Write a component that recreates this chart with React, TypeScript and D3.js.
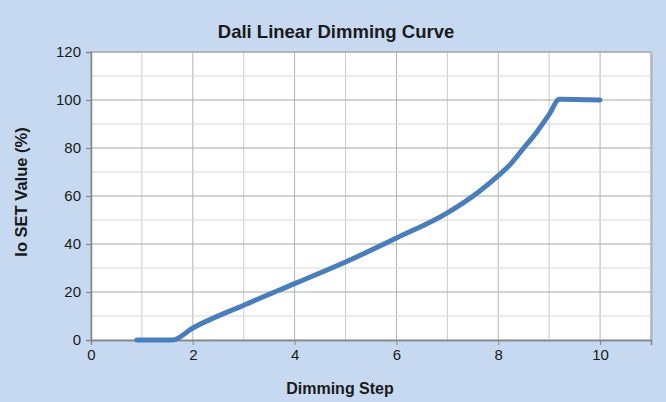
import { useEffect, useRef } from "react";
import * as d3 from "d3";

const WIDTH = 666;
const HEIGHT = 402;
const MARGINS = { LEFT: 91, RIGHT: 15, TOP: 52, BOTTOM: 62 };

const steps = [0.9, 1.6, 2, 3, 4, 5, 6, 7, 7.6, 8, 8.25, 8.5, 8.75, 9, 9.2, 10];
const ioSet = [0, 0, 5, 14.5, 23.5, 32.5, 42.5, 53, 61.5, 68.5, 73.5, 80, 86.5, 94, 100.3, 100];
const xTicks = [0, 2, 4, 6, 8, 10];
const yTicks = [0, 20, 40, 60, 80, 100, 120];

const FONT = "'Liberation Sans', Arial, sans-serif";

const App = () => {
  const svgRef = useRef<SVGSVGElement | null>(null);

  useEffect(() => {
    const svg = d3.select(svgRef.current);
    svg.selectAll("*").remove();

    const innerW = WIDTH - MARGINS.LEFT - MARGINS.RIGHT;
    const innerH = HEIGHT - MARGINS.TOP - MARGINS.BOTTOM;

    svg.append("rect").attr("width", WIDTH).attr("height", HEIGHT).attr("fill", "#c6d9f0");

    const xScale = d3.scaleLinear().domain([0, 11]).range([0, innerW]);
    const yScale = d3.scaleLinear().domain([0, 120]).range([innerH, 0]);

    const g = svg.append("g").attr("transform", `translate(${MARGINS.LEFT}, ${MARGINS.TOP})`);

    // soft shadow on the right / bottom of the plot area
    g.append("rect")
      .attr("x", 2)
      .attr("y", 2)
      .attr("width", innerW)
      .attr("height", innerH)
      .attr("fill", "#b3c6dd");

    g.append("rect").attr("width", innerW).attr("height", innerH).attr("fill", "#ffffff");

    // gridlines
    g.selectAll(".vgrid")
      .data(d3.range(1, 12))
      .join("line")
      .attr("x1", (d) => xScale(d))
      .attr("x2", (d) => xScale(d))
      .attr("y1", 0)
      .attr("y2", innerH)
      .attr("stroke", (d) => (d % 2 === 0 ? "#b4b4b4" : "#cccccc"))
      .attr("stroke-width", 1);

    g.selectAll(".hgrid")
      .data(d3.range(10, 130, 10))
      .join("line")
      .attr("x1", 0)
      .attr("x2", innerW)
      .attr("y1", (d) => yScale(d))
      .attr("y2", (d) => yScale(d))
      .attr("stroke", (d) => (d % 20 === 0 ? "#a8a8a8" : "#d8d8d8"))
      .attr("stroke-width", 1);

    g.append("rect")
      .attr("width", innerW)
      .attr("height", innerH)
      .attr("fill", "none")
      .attr("stroke", "#a6a6a6");

    // axes
    const xAxis = d3.axisBottom(xScale).tickValues(xTicks).tickSize(5).tickPadding(4);
    const yAxis = d3.axisLeft(yScale).tickValues(yTicks).tickSize(5).tickPadding(5);

    const xg = g.append("g").attr("transform", `translate(0, ${innerH})`).call(xAxis as any);
    const yg = g.append("g").call(yAxis as any);

    [xg, yg].forEach((ax) => {
      ax.select(".domain").attr("stroke", "#868686").attr("stroke-width", 1.5);
      ax.selectAll(".tick line").attr("stroke", "#868686");
      ax.selectAll(".tick text")
        .attr("fill", "#1a1a1a")
        .style("font-family", FONT)
        .style("font-size", "15px");
    });

    // curve
    const pts = steps.map((s, i) => [s, ioSet[i]] as [number, number]);
    const line = d3
      .line<[number, number]>()
      .x((d) => xScale(d[0]))
      .y((d) => yScale(d[1]))
      .curve(d3.curveMonotoneX);

    g.append("path")
      .datum(pts)
      .attr("d", line)
      .attr("fill", "none")
      .attr("stroke", "#4a7ebb")
      .attr("stroke-width", 5)
      .attr("stroke-linejoin", "round")
      .attr("stroke-linecap", "round");

    // titles
    svg.append("text")
      .attr("x", 336)
      .attr("y", 38)
      .attr("text-anchor", "middle")
      .style("font-family", FONT)
      .style("font-weight", "bold")
      .style("font-size", "18.5px")
      .attr("fill", "#1a1a1a")
      .text("Dali Linear Dimming Curve");

    svg.append("text")
      .attr("x", 340)
      .attr("y", 394)
      .attr("text-anchor", "middle")
      .style("font-family", FONT)
      .style("font-weight", "bold")
      .style("font-size", "16px")
      .attr("fill", "#1a1a1a")
      .text("Dimming Step");

    svg.append("text")
      .attr("transform", `translate(27, 192) rotate(-90)`)
      .attr("text-anchor", "middle")
      .style("font-family", FONT)
      .style("font-weight", "bold")
      .style("font-size", "16.5px")
      .attr("fill", "#1a1a1a")
      .text("Io SET Value (%)");
  }, []);

  return (
    <div style={{ position: "absolute", top: 0, left: 0 }}>
      <svg ref={svgRef} width={WIDTH} height={HEIGHT} style={{ display: "block" }} />
    </div>
  );
};

export default App;
